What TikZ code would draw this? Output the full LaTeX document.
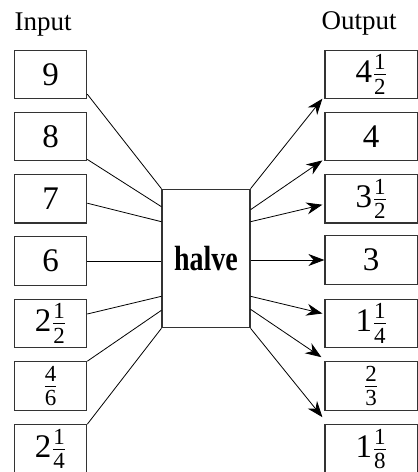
\RequirePackage{fix-cm}
\documentclass[tikz,border=0pt]{standalone}
\usepackage{fontspec}
\setmainfont{Liberation Serif}
\usetikzlibrary{arrows.meta}
\definecolor{boxline}{HTML}{333333}
\newcommand{\frc}[2]{${\hbox{\fontsize{23}{23}\selectfont#1}\over\hbox{\fontsize{23}{23}\selectfont#2}}$}
\newcommand{\mixnum}[3]{#1\kern1pt\frc{#2}{#3}}

\begin{document}
\begin{tikzpicture}[x=1pt,y=-1pt,
    numbox/.style={draw=boxline,line width=1.1pt,minimum height=48.5pt,inner sep=0pt,
      font=\fontsize{33}{36}\selectfont},
    inbox/.style={numbox,minimum width=72.5pt},
    outbox/.style={numbox,minimum width=92.5pt},
    wire/.style={line width=0.8pt},
    arr/.style={wire,-{Stealth[length=16pt,width=12pt]}}]
        \useasboundingbox (0,0) rectangle (418,472);
        \node[anchor=base west,inner sep=0pt,font=\fontsize{27}{30}\selectfont] (inlabel) at (14.5,30) {Input};
        \node[anchor=base west,inner sep=0pt,font=\fontsize{27}{30}\selectfont] (outlabel) at (321.5,29.5) {Output};
        \node[inbox] (in1) at (50.5,74.4) {9};
        \node[inbox] (in2) at (50.5,136.6) {8};
        \node[inbox] (in3) at (50.5,198.7) {7};
        \node[inbox] (in4) at (50.5,261) {6};
        \node[inbox] (in5) at (50.5,323.5) {\mixnum{2}{1}{2}};
        \node[inbox] (in6) at (50.5,386) {\frc{4}{6}};
        \node[inbox] (in7) at (50.5,449) {\mixnum{2}{1}{4}};
        \node[draw=boxline,line width=1.1pt,minimum width=88pt,minimum height=138.5pt,inner sep=0pt] (halve) at (206,258.5)
          {\fontsize{35}{40}\selectfont\scalebox{0.8}[1]{\bfseries halve}};
        \node[outbox] (out1) at (371.2,74.4) {\mixnum{4}{1}{2}};
        \node[outbox] (out2) at (371.2,136.6) {4};
        \node[outbox] (out3) at (371.2,198.7) {\mixnum{3}{1}{2}};
        \node[outbox] (out4) at (371.2,260) {3};
        \node[outbox] (out5) at (371.2,323.5) {\mixnum{1}{1}{4}};
        \node[outbox] (out6) at (371.2,386) {\frc{2}{3}};
        \node[outbox] (out7) at (371.2,449) {\mixnum{1}{1}{8}};
        % inputs into the box
        \draw[wire] ([yshift=5pt]in1.south east) -- (halve.north west);
        \draw[wire] ([yshift=2pt]in2.south east) -- ([yshift=-18pt]halve.north west);
        \draw[wire] ([yshift=-4.5pt]in3.east) -- ([yshift=-33pt]halve.north west);
        \draw[wire] (in4.east) -- (in4.east -| halve.west);
        \draw[wire] ([yshift=9.5pt]in5.east) -- ([yshift=32pt]halve.south west);
        \draw[wire] (in6.north east) -- ([yshift=18pt]halve.south west);
        \draw[wire] (in7.north east) -- (halve.south west);
        % results
        \draw[arr] (halve.north east) -- ([shift={(-2pt,0.5pt)}]out1.south west);
        \draw[arr] ([yshift=-21pt]halve.north east) -- ([shift={(-2pt,1pt)}]out2.south west);
        \draw[arr] ([yshift=-33pt]halve.north east) -- ([shift={(-2pt,-6pt)}]out3.west);
        \draw[arr] (out4.west -| halve.east) -- (out4.west);
        \draw[arr] ([yshift=32pt]halve.south east) -- ([shift={(-2pt,10pt)}]out5.west);
        \draw[arr] ([yshift=19pt]halve.south east) -- ([shift={(-3pt,4pt)}]out6.north west);
        \draw[arr] (halve.south east) -- ([shift={(-2pt,7pt)}]out7.north west);
      \end{tikzpicture}
\end{document}
